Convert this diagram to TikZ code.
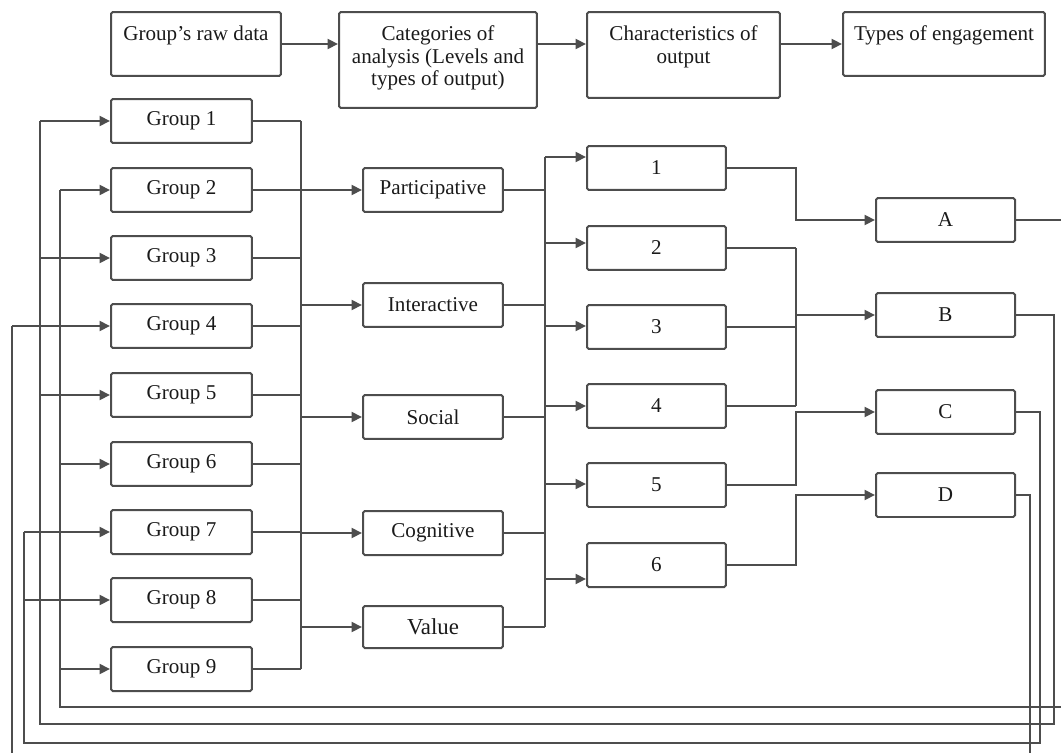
\documentclass[tikz,border=0pt]{standalone}
\usepackage{fontspec}
\setmainfont{Liberation Serif}
\usetikzlibrary{arrows.meta, calc}
\definecolor{linegray}{HTML}{4D4D4D}
\definecolor{textdark}{HTML}{1A1A1A}

\tikzset{
  box/.style={draw=linegray, line width=0.04cm, rounded corners=1pt,
    minimum width=2.8cm, minimum height=0.88cm, inner sep=2pt,
    font=\fontsize{12}{14}\selectfont, text=textdark},
  headtext/.style={font=\fontsize{12}{13}\selectfont, align=center,
    anchor=north, inner sep=2pt, yshift=-6pt, text=textdark},
  link/.style={draw=linegray, line width=0.04cm},
  arr/.style={link, -{Triangle[length=2.1mm,width=2mm]}}
}

\begin{document}
\begin{tikzpicture}[x=0.02cm, y=-0.02cm]
  \clip (0,0) rectangle (1061,753);
  % Header row
  \node[box, minimum width=3.4cm, minimum height=1.28cm,
    label={[headtext]north:Group's raw data}] (raw) at (196,44) {};
  \node[box, minimum width=3.96cm, minimum height=1.92cm,
    label={[headtext]north:Categories of\\analysis (Levels and\\types of output)}] (cat) at (438,60) {};
  \node[box, minimum width=3.86cm, minimum height=1.72cm,
    label={[headtext]north:Characteristics of\\output}] (char) at (683.5,55) {};
  \node[box, minimum width=4.04cm, minimum height=1.28cm,
    label={[headtext]north:Types of engagement}] (eng) at (944,44) {};
  \draw[arr] (raw.east) -- (raw.east -| cat.west);
  \draw[arr] (cat.east |- raw.east) -- (char.west |- raw.east);
  \draw[arr] (char.east |- raw.east) -- (eng.west |- raw.east);

  % Groups
  \foreach \i/\y in {1/121,2/190,3/258,4/326,5/395,6/464,7/532,8/600,9/669}
    \node[box, minimum width=2.82cm] (g\i) at (181.5,\y) {Group \i};

  % Categories
  \node[box] (part) at (433,190) {Participative};
  \node[box] (inter) at (433,305) {Interactive};
  \node[box] (soc) at (433,417) {Social};
  \node[box] (cog) at (433,533) {Cognitive};
  \node[box, minimum height=0.84cm, font=\fontsize{13}{15}\selectfont] (val) at (433,627) {Value};

  % Characteristics 1-6
  \foreach \i/\y in {1/168,2/248,3/327,4/406,5/485,6/565}
    \node[box, minimum width=2.78cm] (n\i) at (656.5,\y) {\i};

  % Types A-D
  \foreach \l/\y in {A/220,B/315,C/412,D/495}
    \node[box, minimum width=2.78cm] (t\l) at (945.5,\y) {\l};

  % Bus lines
  \coordinate (busG) at (301,0);
  \coordinate (busC) at (545,0);
  \coordinate (busN) at (796,0);

  % Groups -> categories
  \foreach \i in {1,...,9}
    \draw[link] (g\i.east) -- (g\i.east -| busG);
  \draw[link] (g1.east -| busG) -- (g9.east -| busG);
  \foreach \c in {part,inter,soc,cog,val}
    \draw[arr] (\c.west -| busG) -- (\c.west);

  % Categories -> characteristics
  \foreach \i/\s in {1/0.22,2/0.1,3/0.02,4/0,5/0.02,6/-0.28}
    \coordinate (in\i) at ([yshift=\s cm]n\i.west);
  \foreach \c in {part,inter,soc,cog,val}
    \draw[link] (\c.east) -- (\c.east -| busC);
  \draw[link] (in1 -| busC) -- (val.east -| busC);
  \foreach \i in {1,...,6}
    \draw[arr] (in\i -| busC) -- (in\i);

  % Characteristics -> types
  \draw[arr] (n1.east) -- (n1.east -| busN) |- (tA.west);
  \foreach \i in {2,3,4}
    \draw[link] (n\i.east) -- (n\i.east -| busN);
  \draw[link] (n2.east -| busN) -- (n4.east -| busN);
  \draw[arr] (tB.west -| busN) -- (tB.west);
  \draw[arr] (n5.east) -- (n5.east -| busN) |- (tC.west);
  \draw[arr] (n6.east) -- (n6.east -| busN) |- (tD.west);

  % Feedback to groups
  \coordinate (fA) at (60,707);
  \coordinate (fB) at (40,724);
  \coordinate (fC) at (24,743);
  \coordinate (fD) at (12,765);
  \draw[link] (tA.east) -| (1075,707) -- (fA) -- (fA |- g2.west);
  \draw[link] (tB.east) -| (1054,724) -- (fB) -- (fB |- g1.west);
  \draw[link] (tC.east) -| (1040,743) -- (fC) -- (fC |- g7.west);
  \draw[link] (tD.east) -| (1030,765) -- (fD) -- (fD |- g4.west);
  \foreach \i in {2,6,9}
    \draw[arr] (fA |- g\i.west) -- (g\i.west);
  \foreach \i in {1,3,5}
    \draw[arr] (fB |- g\i.west) -- (g\i.west);
  \foreach \i in {7,8}
    \draw[arr] (fC |- g\i.west) -- (g\i.west);
  \draw[arr] (fD |- g4.west) -- (g4.west);
\end{tikzpicture}
\end{document}
